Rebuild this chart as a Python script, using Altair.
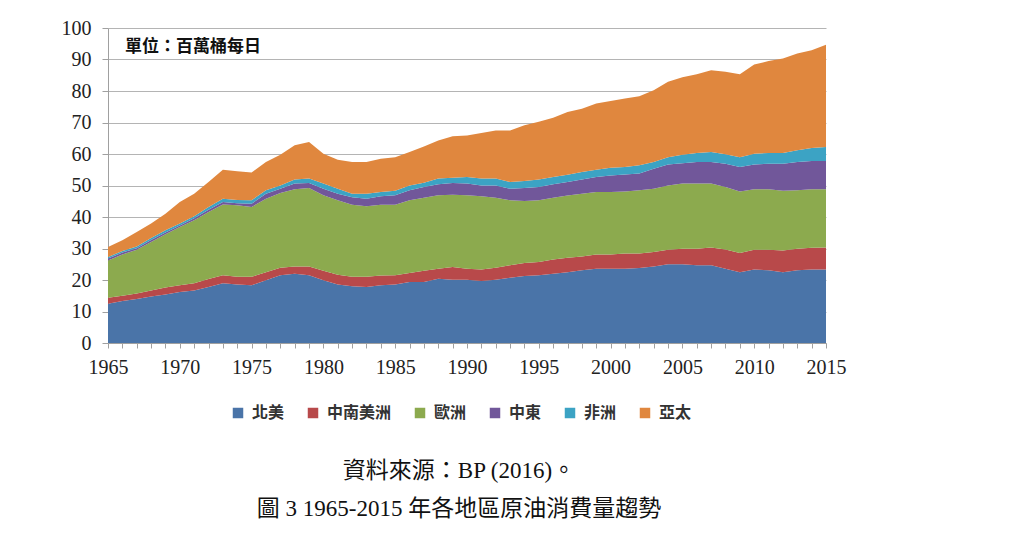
import altair as alt
import pandas as pd

years = list(range(1965, 2016))
regions = ["北美", "中南美洲", "歐洲", "中東", "非洲", "亞太"]
colors = ["#4A74A8", "#B8494A", "#8CAA4E", "#71579A", "#3CA3C4", "#E0873E"]

# Stacked tops (cumulative, bottom to top)
top_north_america = [12.5, 13.3, 14.0, 14.8, 15.4, 16.2, 16.7, 17.8, 19.0, 18.6,
                     18.3, 19.9, 21.5, 22.0, 21.5, 19.9, 18.6, 18.0, 17.8, 18.3,
                     18.6, 19.4, 19.4, 20.4, 20.1, 20.1, 19.7, 20.1, 20.7, 21.3,
                     21.5, 22.0, 22.5, 23.1, 23.6, 23.6, 23.6, 23.8, 24.3, 25.0,
                     25.0, 24.7, 24.7, 23.6, 22.5, 23.3, 23.1, 22.5, 23.1, 23.3, 23.3]
top_latin_america = [14.4, 15.0, 15.7, 16.7, 17.6, 18.3, 19.0, 20.3, 21.5, 21.0,
                     21.0, 22.5, 23.9, 24.3, 24.3, 22.9, 21.7, 21.0, 21.0, 21.4,
                     21.5, 22.2, 22.9, 23.6, 24.1, 23.6, 23.3, 23.9, 24.7, 25.4,
                     25.7, 26.5, 27.1, 27.5, 28.1, 28.1, 28.4, 28.4, 28.9, 29.6,
                     29.9, 29.9, 30.3, 29.7, 28.6, 29.6, 29.6, 29.4, 29.9, 30.2, 30.3]
top_europe = [26.2, 28.1, 29.6, 32.1, 34.5, 36.8, 39.0, 41.6, 44.0, 43.7,
              43.2, 45.8, 47.6, 48.8, 49.2, 46.9, 45.3, 43.9, 43.4, 43.9,
              43.9, 45.3, 46.1, 46.9, 47.1, 46.9, 46.6, 46.1, 45.3, 45.1,
              45.3, 46.1, 46.8, 47.4, 47.9, 47.9, 48.1, 48.5, 49.0, 50.0,
              50.6, 50.6, 50.6, 49.5, 48.1, 48.8, 48.8, 48.3, 48.5, 48.8, 48.8]
top_middle_east = [26.8, 28.7, 30.1, 32.7, 35.1, 37.3, 39.6, 42.3, 44.8, 44.4,
                   44.2, 47.4, 49.0, 50.6, 50.8, 49.0, 47.4, 46.3, 45.8, 46.6,
                   46.9, 48.5, 49.5, 50.4, 50.8, 50.6, 50.0, 50.0, 49.0, 49.2,
                   49.5, 50.4, 51.1, 51.9, 52.7, 53.2, 53.5, 53.8, 55.3, 56.7,
                   57.1, 57.5, 57.5, 56.9, 55.9, 56.7, 56.9, 56.9, 57.5, 57.8, 57.8]
top_africa = [27.3, 29.2, 30.6, 33.3, 35.8, 37.9, 40.2, 43.2, 45.8, 45.4,
              45.3, 48.5, 50.0, 51.9, 52.2, 50.6, 49.0, 47.4, 47.4, 47.9,
              48.3, 50.0, 50.9, 52.2, 52.5, 52.7, 52.2, 52.2, 51.1, 51.4,
              51.9, 52.7, 53.4, 54.3, 55.0, 55.6, 55.9, 56.4, 57.5, 59.0,
              59.8, 60.3, 60.6, 59.9, 59.0, 60.1, 60.3, 60.3, 61.2, 61.9, 62.2]
top_asia_pacific = [30.5, 32.6, 35.2, 37.9, 41.0, 44.8, 47.4, 51.1, 55.0, 54.5,
                    54.1, 57.5, 59.8, 62.8, 63.8, 60.1, 58.2, 57.5, 57.5, 58.5,
                    59.0, 60.6, 62.4, 64.3, 65.6, 65.9, 66.7, 67.5, 67.5, 69.1,
                    70.2, 71.5, 73.3, 74.4, 76.0, 76.8, 77.6, 78.3, 80.2, 82.9,
                    84.4, 85.3, 86.6, 86.1, 85.3, 88.4, 89.5, 90.3, 91.9, 92.9, 94.7]

tops = [top_north_america, top_latin_america, top_europe,
        top_middle_east, top_africa, top_asia_pacific]

rows = []
for ri, (name, series) in enumerate(zip(regions, tops)):
    below = tops[ri - 1] if ri > 0 else [0.0] * len(years)
    for y, t, b in zip(years, series, below):
        rows.append({"year": y, "region": name, "idx": ri,
                     "value": round(t - b, 2)})
df = pd.DataFrame(rows)

serif = "Liberation Serif, 'Noto Sans CJK TC'"

area = alt.Chart(df).mark_area(interpolate="linear").encode(
    x=alt.X("year:Q",
            scale=alt.Scale(domain=[1965, 2015], nice=False, zero=False),
            axis=alt.Axis(values=years, labelExpr="datum.value % 5 == 0 ? datum.value : ''",
                          grid=False, tickSize=5, labelPadding=9, title=None,
                          labelFont="Liberation Serif", labelFontSize=20,
                          labelColor="#222", domainColor="#a0a0a0", tickColor="#a0a0a0",
                          labelOverlap=False, labelFlush=False)),
    y=alt.Y("value:Q", stack="zero",
            scale=alt.Scale(domain=[0, 100], nice=False),
            axis=alt.Axis(values=list(range(0, 101, 10)), title=None, tickSize=6,
                          labelPadding=11, labelFont="Liberation Serif", labelFontSize=20,
                          labelColor="#222", gridColor="#b4b4b4", domainColor="#a0a0a0",
                          tickColor="#a0a0a0")),
    color=alt.Color("region:N", sort=regions,
                    scale=alt.Scale(domain=regions, range=colors),
                    legend=alt.Legend(orient="none", direction="horizontal",
                                      legendX=122, legendY=377, title=None,
                                      symbolType="square", symbolSize=110,
                                      symbolStrokeWidth=0, labelFontSize=16,
                                      labelFont="'Noto Sans CJK TC'", labelFontWeight="bold",
                                      labelColor="#333", columnPadding=20, labelOffset=6)),
    order=alt.Order("idx:Q", sort="ascending"),
)

unit = alt.Chart(pd.DataFrame({"t": ["單位：百萬桶每日"]})).mark_text(
    align="left", baseline="middle", fontSize=17, fontWeight="bold",
    font="'Noto Sans CJK TC'", color="#111"
).encode(text="t:N", x=alt.value(17), y=alt.value(19))

cap1 = alt.Chart(pd.DataFrame({"t": ["資料來源：BP (2016)。"]})).mark_text(
    align="center", baseline="middle", fontSize=23, font=serif, color="#111"
).encode(text="t:N", x=alt.value(351), y=alt.value(443))

cap2 = alt.Chart(pd.DataFrame({"t": ["圖 3 1965-2015 年各地區原油消費量趨勢"]})).mark_text(
    align="center", baseline="middle", fontSize=23, font=serif, color="#111"
).encode(text="t:N", x=alt.value(351), y=alt.value(481))

chart = alt.layer(area, unit, cap1, cap2).properties(
    width=718, height=315,
    autosize=alt.AutoSizeParams(type="none"),
    padding={"left": 100, "top": 20, "right": 190, "bottom": 190},
    background="white",
).configure_view(stroke=None)

chart.save("out.html", embed_options={"renderer": "svg", "actions": False})
